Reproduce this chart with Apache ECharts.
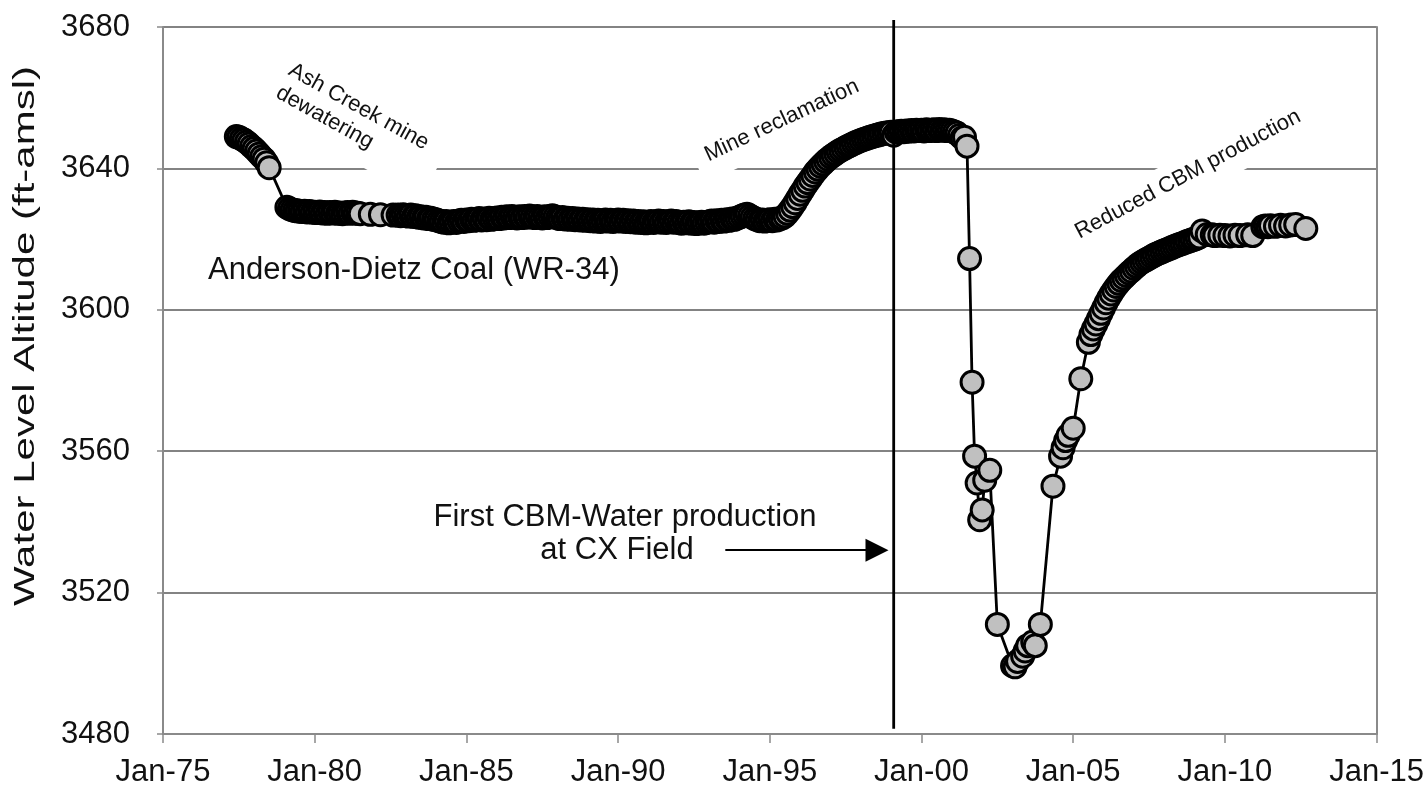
<!DOCTYPE html>
<html>
<head>
<meta charset="utf-8">
<title>Anderson-Dietz Coal (WR-34) water levels</title>
<script src="https://cdn.jsdelivr.net/npm/echarts@6/dist/echarts.min.js"></script>
<style>
  html, body { margin: 0; padding: 0; background: #ffffff; }
  #chart { width: 1427px; height: 788px; }
</style>
</head>
<body>
<div id="chart"></div>
<script>
// Monitoring well WR-34, Anderson-Dietz coal: water level altitude (ft above mean sea level).

// Ash Creek mine dewatering
const dewateringDates = ['1977-06','1977-07','1977-08','1977-09','1977-10','1977-11','1977-12',
  '1978-01','1978-02','1978-03','1978-04','1978-05','1978-06','1978-07'];
const dewateringLevels = [3649.0,3648.8,3648.4,3648.0,3647.5,3646.9,3646.2,
  3645.6,3644.9,3644.1,3643.3,3642.6,3641.6,3640.2];

// Stable period while the mine was active
const stableDates = [
  '1979-02','1979-03','1979-04','1979-05','1979-06','1979-07','1979-08','1979-09','1979-10','1979-11','1979-12',
  '1980-01','1980-02','1980-03','1980-04','1980-05','1980-06','1980-07','1980-08','1980-09','1980-10','1980-11','1980-12',
  '1981-01','1981-02','1981-03','1981-04','1981-05','1981-06','1981-07','1981-11',
  '1982-03','1982-08','1982-10','1982-11','1982-12',
  '1983-01','1983-02','1983-03','1983-04','1983-05','1983-06','1983-07','1983-08','1983-09','1983-10','1983-11','1983-12',
  '1984-01','1984-02','1984-03','1984-04','1984-05','1984-06','1984-07','1984-08','1984-09','1984-10','1984-11','1984-12',
  '1985-01','1985-02','1985-03','1985-04','1985-05','1985-06','1985-07','1985-08','1985-09','1985-10','1985-11','1985-12',
  '1986-01','1986-02','1986-03','1986-04','1986-05','1986-06','1986-07','1986-08','1986-09','1986-10','1986-11','1986-12',
  '1987-01','1987-02','1987-03','1987-04','1987-05','1987-06','1987-07','1987-08','1987-09','1987-10','1987-11','1987-12',
  '1988-01','1988-02','1988-03','1988-04','1988-05','1988-06','1988-07','1988-08','1988-09','1988-10','1988-11','1988-12',
  '1989-01','1989-02','1989-03','1989-04','1989-05','1989-06','1989-07','1989-08','1989-09','1989-10','1989-11','1989-12',
  '1990-01','1990-02','1990-03','1990-04','1990-05','1990-06','1990-07','1990-08','1990-09','1990-10','1990-11','1990-12',
  '1991-01','1991-02','1991-03','1991-04','1991-05','1991-06','1991-07','1991-08','1991-09','1991-10','1991-11','1991-12',
  '1992-01','1992-02','1992-03','1992-04','1992-05','1992-06','1992-07','1992-08','1992-09','1992-10','1992-11','1992-12',
  '1993-01','1993-02','1993-03','1993-04','1993-05','1993-06','1993-07','1993-08','1993-09','1993-10','1993-11','1993-12',
  '1994-01','1994-02','1994-03','1994-04','1994-05','1994-06','1994-07','1994-08','1994-09','1994-10','1994-11','1994-12',
  '1995-01','1995-02','1995-03','1995-04','1995-05','1995-06'];
const stableLevels = [
  3629.0,3628.6,3628.3,3628.1,3628.0,3627.9,3627.8,3627.9,3627.7,3627.8,3627.6,
  3627.6,3627.5,3627.7,3627.4,3627.5,3627.3,3627.5,3627.4,3627.6,3627.3,3627.4,3627.2,
  3627.4,3627.5,3627.3,3627.6,3627.4,3627.3,3627.2,3627.0,
  3626.9,3626.8,3626.8,3626.6,3626.9,
  3626.7,3626.5,3626.8,3626.4,3626.6,3626.2,3626.3,3626.0,3626.2,3625.8,3625.9,3625.6,
  3625.5,3625.2,3625.0,3624.8,3625.0,3624.6,3624.8,3625.0,3624.7,3625.1,3625.3,3625.0,
  3625.4,3625.2,3625.6,3625.3,3625.5,3625.8,3625.4,3625.7,3625.5,3625.9,3625.6,3625.8,
  3626.0,3625.8,3626.2,3626.0,3626.3,3626.1,3626.4,3626.2,3626.0,3626.3,3626.1,3626.4,
  3626.2,3626.5,3626.3,3626.1,3626.4,3626.2,3626.0,3626.3,3626.1,3626.4,3626.6,3626.3,
  3626.0,3625.8,3626.1,3625.7,3625.9,3625.6,3625.8,3625.5,3625.7,3625.4,3625.6,3625.3,
  3625.5,3625.2,3625.4,3625.1,3625.3,3625.0,3625.2,3625.4,3625.1,3625.3,3625.0,3625.2,
  3625.4,3625.1,3625.3,3625.0,3625.2,3624.9,3625.1,3624.8,3625.0,3624.7,3624.9,3624.6,
  3624.8,3625.0,3624.7,3624.9,3625.1,3624.8,3625.0,3624.7,3624.9,3625.1,3624.8,3625.0,
  3624.7,3624.5,3624.8,3624.6,3624.9,3624.5,3624.7,3624.4,3624.6,3624.8,3624.5,3624.7,
  3624.9,3625.1,3624.8,3625.2,3625.0,3625.3,3625.1,3625.5,3625.3,3625.7,3625.6,3625.9,
  3626.2,3626.5,3626.8,3627.0,3626.6,3626.2,3625.8,3625.5,3625.2,3625.4,3625.1,3625.3,
  3625.5,3625.2,3625.6,3625.4,3625.8,3626.0];

// Recovery after mine reclamation
const recoveryDates = [
  '1995-07','1995-08','1995-09','1995-10','1995-11','1995-12',
  '1996-01','1996-02','1996-03','1996-04','1996-05','1996-06','1996-07','1996-08','1996-09','1996-10','1996-11','1996-12',
  '1997-01','1997-02','1997-03','1997-04','1997-05','1997-06','1997-07','1997-08','1997-09','1997-10','1997-11','1997-12',
  '1998-01','1998-02','1998-03','1998-04','1998-05','1998-06','1998-07','1998-08','1998-09','1998-10','1998-11','1998-12',
  '1999-01','1999-02','1999-03','1999-04','1999-05','1999-06','1999-07','1999-08','1999-09','1999-10','1999-11','1999-12',
  '2000-01','2000-02','2000-03','2000-04','2000-05','2000-06','2000-07','2000-08','2000-09','2000-10','2000-11','2000-12',
  '2001-01','2001-02','2001-03','2001-04','2001-05','2001-06','2001-07'];
const recoveryLevels = [
  3626.5,3627.3,3628.2,3629.2,3630.3,3631.5,
  3632.7,3633.8,3635.0,3636.0,3637.0,3638.0,3639.0,3639.8,3640.6,3641.3,3642.0,3642.6,
  3643.2,3643.7,3644.2,3644.7,3645.1,3645.5,3645.9,3646.3,3646.6,3647.0,3647.3,3647.6,
  3647.9,3648.2,3648.4,3648.7,3648.9,3649.1,3649.3,3649.5,3649.7,3649.9,3650.0,3650.1,
  3650.2,3649.4,3650.3,3650.4,3650.5,3650.4,3650.6,3650.5,3650.7,3650.6,3650.8,3650.7,
  3650.8,3650.6,3650.9,3650.7,3650.8,3650.9,3650.7,3651.0,3650.8,3650.9,3650.7,3650.8,
  3650.6,3650.3,3650.0,3649.3,3648.6,3648.8,3646.3];

// Drawdown from CBM water production
const drawdownDates = ['2001-08','2001-09','2001-10','2001-11','2001-12','2002-01','2002-02','2002-04','2002-07',
  '2003-01','2003-02','2003-03','2003-05','2003-06','2003-07','2003-09','2003-10','2003-12'];
const drawdownLevels = [3614.5,3579.5,3558.6,3551.0,3540.6,3543.4,3551.8,3554.6,3511.0,
  3499.3,3499.0,3500.5,3502.0,3503.5,3505.0,3506.0,3505.0,3511.0];

// Rebound with reduced CBM production
const reboundDates = [
  '2004-05','2004-08','2004-09','2004-10','2004-11','2005-01','2005-04',
  '2005-07','2005-08','2005-09','2005-10','2005-11','2005-12',
  '2006-01','2006-02','2006-03','2006-04','2006-05','2006-06','2006-07','2006-08','2006-09','2006-10','2006-11','2006-12',
  '2007-01','2007-02','2007-03','2007-04','2007-05','2007-06','2007-07','2007-08','2007-09','2007-10','2007-11','2007-12',
  '2008-01','2008-02','2008-03','2008-04','2008-05','2008-06','2008-07','2008-08','2008-09','2008-10','2008-11','2008-12',
  '2009-01','2009-02','2009-03','2009-04','2009-06','2009-08','2009-09','2009-11',
  '2010-01','2010-03','2010-05','2010-07','2010-10','2010-12',
  '2011-04','2011-05','2011-06','2011-07','2011-09','2011-11',
  '2012-01','2012-03','2012-05','2012-09'];
const reboundLevels = [
  3550.1,3558.6,3561.0,3563.0,3564.5,3566.5,3580.5,
  3590.8,3593.0,3594.6,3596.0,3597.5,3599.0,
  3600.5,3602.0,3603.3,3604.5,3605.6,3606.6,3607.5,3608.3,3609.0,3609.7,3610.4,3611.0,
  3611.7,3612.3,3612.9,3613.4,3613.8,3614.2,3614.6,3615.0,3615.4,3615.8,3616.1,3616.4,
  3616.7,3617.0,3617.3,3617.6,3617.9,3618.2,3618.5,3618.7,3619.0,3619.3,3619.5,3619.8,
  3620.0,3620.3,3620.6,3622.3,3621.3,3621.2,3621.0,3621.1,
  3621.0,3620.9,3621.1,3621.0,3621.2,3621.0,
  3623.5,3623.7,3623.5,3623.8,3623.6,3623.9,
  3623.7,3624.0,3624.1,3623.0];

// Axis setup
const yearTicks = [1975, 1980, 1985, 1990, 1995, 2000, 2005, 2010, 2015];
const levelTicks = [3480, 3520, 3560, 3600, 3640, 3680];

// Annotations
const cbmStartDate = '1999-02';      // first CBM-water production at CX Field
const cbmLineLevels = [3682, 3481.5];
const arrowFromDate = '1993-08';
const arrowToDate = '1998-08';
const arrowLevel = 3532;

const FONT = '"Liberation Sans", Arial, Helvetica, sans-serif';

function toYear(d) {
  const parts = d.split('-').map(Number);
  return parts[0] + (parts[1] - 1) / 12;
}

const phases = [
  [dewateringDates, dewateringLevels],
  [stableDates, stableLevels],
  [recoveryDates, recoveryLevels],
  [drawdownDates, drawdownLevels],
  [reboundDates, reboundLevels]
];
const readings = [];
phases.forEach(function (p) {
  p[0].forEach(function (d, i) { readings.push([toYear(d), p[1][i]]); });
});

const cbmStart = toYear(cbmStartDate);
const arrowStart = toYear(arrowFromDate) - 0.05;
const arrowEnd = toYear(arrowToDate) - 0.05;

const deg = Math.PI / 180;
const GRAY = '#8a8a8a';

const chart = echarts.init(document.getElementById('chart'), null, { renderer: 'canvas' });

const option = {
  animation: false,
  backgroundColor: '#ffffff',
  grid: { left: 163, right: 50, top: 27, bottom: 52, containLabel: false },
  xAxis: {
    type: 'value',
    min: yearTicks[0],
    max: yearTicks[yearTicks.length - 1],
    interval: yearTicks[1] - yearTicks[0],
    axisLine: { show: true, lineStyle: { color: GRAY, width: 2 } },
    axisTick: { show: true, length: 9, lineStyle: { color: GRAY, width: 1.5 } },
    axisLabel: {
      fontSize: 31, fontFamily: FONT, color: '#111', margin: 23,
      formatter: function (v) { return 'Jan-' + String(v % 100).padStart(2, '0'); }
    },
    splitLine: { show: false }
  },
  yAxis: [{
    type: 'value',
    min: levelTicks[0],
    max: levelTicks[levelTicks.length - 1],
    interval: levelTicks[1] - levelTicks[0],
    axisLine: { show: true, lineStyle: { color: GRAY, width: 2 } },
    axisTick: { show: true, length: 6, lineStyle: { color: GRAY, width: 1.5 } },
    axisLabel: {
      fontSize: 31, fontFamily: FONT, color: '#111', margin: 33,
      formatter: function (v) { return String(v); }
    },
    splitLine: { show: true, lineStyle: { color: '#5a5a5a', width: 1.5 } }
  }, {
    type: 'value',
    position: 'right',
    min: levelTicks[0],
    max: levelTicks[levelTicks.length - 1],
    interval: levelTicks[1] - levelTicks[0],
    axisLine: { show: true, lineStyle: { color: GRAY, width: 2 } },
    axisTick: { show: false },
    axisLabel: { show: false },
    splitLine: { show: false }
  }],
  series: [{
    name: 'WR-34',
    type: 'line',
    data: readings,
    z: 2,
    symbol: 'circle',
    symbolSize: 22,
    showSymbol: true,
    showAllSymbol: true,
    silent: true,
    itemStyle: { color: '#c0c0c0', borderColor: '#000', borderWidth: 3 },
    lineStyle: { color: '#000', width: 2.8 },
    emphasis: { disabled: true }
  }, {
    name: 'First CBM-water production',
    type: 'line',
    data: [[cbmStart, cbmLineLevels[0]], [cbmStart, cbmLineLevels[1]]],
    z: 3,
    clip: false,
    symbol: 'none',
    silent: true,
    lineStyle: { color: '#000', width: 2.8 },
    markLine: {
      silent: true,
      symbol: ['none', 'triangle'],
      symbolSize: [23, 23],
      label: { show: false },
      lineStyle: { color: '#000', width: 2.2, type: 'solid' },
      emphasis: { disabled: true },
      data: [[{ coord: [arrowStart, arrowLevel] }, { coord: [arrowEnd, arrowLevel] }]]
    }
  }],
  graphic: [
    {
      type: 'text', z: 1, silent: true,
      x: 26, y: 336, rotation: 90 * deg, scaleX: 1.4,
      style: { text: 'Water Level Altitude (ft-amsl)', fontSize: 30, fontFamily: FONT, fill: '#111',
               align: 'center', verticalAlign: 'middle' }
    },
    {
      type: 'text', z: 1, silent: true, x: 208, y: 270,
      style: { text: 'Anderson-Dietz Coal (WR-34)', fontSize: 31, fontFamily: FONT, fill: '#111',
               align: 'left', verticalAlign: 'middle' }
    },
    {
      type: 'text', z: 1, silent: true, x: 625, y: 517,
      style: { text: 'First CBM-Water production', fontSize: 31, fontFamily: FONT, fill: '#111',
               align: 'center', verticalAlign: 'middle' }
    },
    {
      type: 'text', z: 1, silent: true, x: 617, y: 550,
      style: { text: 'at CX Field', fontSize: 31, fontFamily: FONT, fill: '#111',
               align: 'center', verticalAlign: 'middle' }
    },
    {
      type: 'text', z: 1, silent: true, x: 295, y: 52, rotation: -29 * deg,
      style: { text: 'Ash Creek mine\ndewatering', fontSize: 22, lineHeight: 26, fontFamily: FONT, fill: '#111',
               align: 'left', verticalAlign: 'top', backgroundColor: '#fff', padding: [4, 20, 12, 4] }
    },
    {
      type: 'text', z: 1, silent: true, x: 688, y: 146, rotation: 25 * deg,
      style: { text: 'Mine reclamation', fontSize: 22, lineHeight: 25, fontFamily: FONT, fill: '#111',
               align: 'left', verticalAlign: 'top', backgroundColor: '#fff', padding: [4, 4, 12, 12] }
    },
    {
      type: 'text', z: 1, silent: true, x: 1064, y: 218, rotation: 28 * deg,
      style: { text: 'Reduced CBM production', fontSize: 22, lineHeight: 25, fontFamily: FONT, fill: '#111',
               align: 'left', verticalAlign: 'top', backgroundColor: '#fff', padding: [7, 4, 10, 4] }
    }
  ]
};

chart.setOption(option);
</script>
</body>
</html>
